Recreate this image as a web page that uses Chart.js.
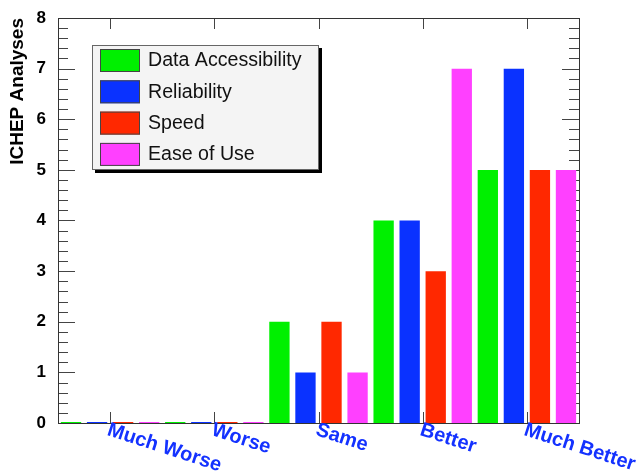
<!DOCTYPE html>
<html>
<head>
<meta charset="utf-8">
<script src="https://cdn.jsdelivr.net/npm/chart.js@4/dist/chart.umd.min.js"></script>
<style>
  body { margin: 0; background: #fff; }
  canvas { display: block; }
</style>
</head>
<body>
<canvas id="chart" width="641" height="476"></canvas>
<script>
const categories = ['Much Worse', 'Worse', 'Same', 'Better', 'Much Better'];
const seriesNames = ['Data Accessibility', 'Reliability', 'Speed', 'Ease of Use'];
const dataAccessibility = [0, 0, 2, 4, 5];
const reliability = [0, 0, 1, 4, 7];
const speed = [0, 0, 2, 3, 5];
const easeOfUse = [0, 0, 1, 7, 5];
const yMin = 0;
const yMax = 8;

const colors = ['#00f000', '#0a32ff', '#ff2800', '#ff40ff'];
const fontFamily = '"Liberation Sans", Arial, Helvetica, sans-serif';

// ROOT style frame: ticks drawn inward on all four sides
const frameTicks = {
    id: 'frameTicks',
    beforeDatasetsDraw(chart) {
        const ctx = chart.ctx;
        const a = chart.chartArea;
        const y = chart.scales.y;
        const x = chart.scales.x;
        ctx.save();
        ctx.strokeStyle = '#444';
        ctx.lineWidth = 1;
        ctx.beginPath();
        for (let v = yMin; v <= yMax + 1e-6; v += 0.2) {
            const py = Math.round(y.getPixelForValue(v)) + 0.5;
            const major = Math.abs(v - Math.round(v)) < 1e-6;
            const len = major ? 17 : 10;
            ctx.moveTo(a.left, py);
            ctx.lineTo(a.left + len, py);
            ctx.moveTo(a.right, py);
            ctx.lineTo(a.right - len, py);
        }
        categories.forEach(function (c, i) {
            const px = Math.round(x.getPixelForValue(i)) + 0.5;
            ctx.moveTo(px, a.bottom);
            ctx.lineTo(px, a.bottom - 11);
            ctx.moveTo(px, a.top);
            ctx.lineTo(px, a.top + 11);
        });
        ctx.stroke();
        ctx.restore();
    },
    afterDatasetsDraw(chart) {
        const ctx = chart.ctx;
        const a = chart.chartArea;
        ctx.save();
        ctx.strokeStyle = '#333';
        ctx.lineWidth = 1;
        ctx.strokeRect(Math.round(a.left) + 0.5, Math.round(a.top) + 0.5,
            Math.round(a.right - a.left), Math.round(a.bottom - a.top));
        ctx.restore();
    }
};

// rotated category labels under the axis
const slantedLabels = {
    id: 'slantedLabels',
    afterDraw(chart) {
        const ctx = chart.ctx;
        const x = chart.scales.x;
        const bottom = chart.chartArea.bottom;
        ctx.save();
        ctx.font = 'bold 20px ' + fontFamily;
        ctx.fillStyle = '#1432ff';
        ctx.textAlign = 'left';
        ctx.textBaseline = 'top';
        categories.forEach(function (c, i) {
            ctx.save();
            ctx.translate(x.getPixelForValue(i) + 1, bottom - 3);
            ctx.rotate(18 * Math.PI / 180);
            ctx.fillText(c, 0, 0);
            ctx.restore();
        });
        ctx.restore();
    }
};

// legend box with shadow, inside the frame
const boxLegend = {
    id: 'boxLegend',
    afterDraw(chart) {
        const ctx = chart.ctx;
        const bx = 92, by = 45, bw = 227, bh = 125;
        ctx.save();
        ctx.fillStyle = '#000';
        ctx.fillRect(bx + 3, by + 3, bw, bh);
        ctx.fillStyle = '#f4f4f4';
        ctx.fillRect(bx, by, bw, bh);
        ctx.strokeStyle = '#666';
        ctx.lineWidth = 1;
        ctx.strokeRect(bx + 0.5, by + 0.5, bw - 1, bh - 1);
        ctx.font = '19.6px ' + fontFamily;
        ctx.textAlign = 'left';
        ctx.textBaseline = 'middle';
        chart.data.datasets.forEach(function (ds, i) {
            const ry = by + 4 + i * 31.3;
            ctx.fillStyle = ds.backgroundColor;
            ctx.fillRect(100, ry, 40, 23);
            ctx.strokeStyle = '#444';
            ctx.strokeRect(100.5, ry + 0.5, 39, 22);
            ctx.fillStyle = '#111';
            ctx.fillText(ds.label, 148, ry + 12);
        });
        ctx.restore();
    }
};

const seriesValues = [dataAccessibility, reliability, speed, easeOfUse];

new Chart(document.getElementById('chart').getContext('2d'), {
    type: 'bar',
    data: {
        labels: categories,
        datasets: seriesNames.map(function (name, i) {
            return {
                label: name,
                data: seriesValues[i],
                backgroundColor: colors[i],
                borderWidth: 0,
                minBarLength: 1,
                categoryPercentage: 1,
                barPercentage: 0.78
            };
        })
    },
    options: {
        responsive: false,
        animation: false,
        devicePixelRatio: 1,
        layout: {
            padding: { left: 0, right: 62, top: 18, bottom: 0 }
        },
        plugins: {
            legend: { display: false },
            tooltip: { enabled: false }
        },
        scales: {
            x: {
                type: 'category',
                offset: true,
                grid: { display: false },
                border: { display: false },
                ticks: { display: false },
                afterFit: function (scale) {
                    scale.height = 53;
                }
            },
            y: {
                min: yMin,
                max: yMax,
                grid: { display: false },
                border: { display: false },
                ticks: {
                    stepSize: 1,
                    padding: 4,
                    color: '#000',
                    font: { family: fontFamily, size: 17, weight: 'bold' }
                },
                title: {
                    display: true,
                    text: 'ICHEP Analyses',
                    align: 'end',
                    color: '#000',
                    font: { family: fontFamily, size: 19, weight: 'bold' },
                    padding: { top: 6, bottom: 0 }
                },
                afterFit: function (scale) {
                    scale.width = 58;
                }
            }
        }
    },
    plugins: [frameTicks, slantedLabels, boxLegend]
});
</script>
</body>
</html>
